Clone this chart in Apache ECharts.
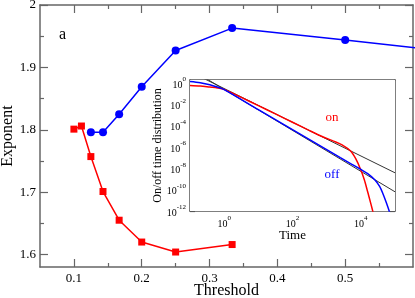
<!DOCTYPE html>
<html><head><meta charset="utf-8">
<script src="https://cdn.jsdelivr.net/npm/echarts@6/dist/echarts.min.js"></script>
<style>html,body{margin:0;padding:0;background:#fff}#c{width:415px;height:298px}</style>
</head><body><div id="c"></div>
<script>
// ---- main panel data ----
const redThreshold = [0.1, 0.1111, 0.125, 0.1429, 0.1667, 0.2, 0.25, 0.3333];
const redExponent  = [1.801, 1.806, 1.757, 1.701, 1.655, 1.620, 1.604, 1.616];
const blueThreshold = [0.125, 0.1429, 0.1667, 0.2, 0.25, 0.3333, 0.5, 1.0];
const blueExponent  = [1.796, 1.796, 1.825, 1.869, 1.927, 1.963, 1.944, 1.884];
const xMajorTicks = [0.1, 0.2, 0.3, 0.4, 0.5];
const xMinorTicks = [0.15, 0.25, 0.35, 0.45, 0.55];
const yMajorTicks = [1.6, 1.7, 1.8, 1.9, 2.0];
const yMinorTicks = [1.65, 1.75, 1.85, 1.95];

// ---- inset data (log10 of time, log10 of distribution) ----
const onLogTime  = [-1, -0.7, -0.42, -0.2, 0, 0.5, 1, 1.5, 2, 2.5, 2.9, 3.2, 3.45, 3.7, 3.85, 4.0, 4.1, 4.2, 4.3, 4.38];
const onLogProb  = [-0.23, -0.28, -0.38, -0.46, -0.6, -1.35, -2.12, -2.9, -3.68, -4.46, -5.06, -5.45, -5.8, -6.38, -7.1, -8.15, -9.05, -10.2, -11.4, -12.4];
const offLogTime = [-1, -0.7, -0.42, -0.2, 0, 1, 2, 3, 3.4, 3.7, 4.0, 4.2, 4.4, 4.55, 4.65, 4.75, 4.85, 4.9];
const offLogProb = [0.15, 0.03, -0.16, -0.38, -0.62, -2.5, -4.38, -6.25, -7.0, -7.55, -8.1, -8.5, -9.05, -9.7, -10.4, -11.25, -12.2, -12.8];
const fitLogTime   = [-1, 5];
const fitOnLogProb = [1.06, -8.42];
const fitOffLogProb = [1.32, -10.2];
const insetXTicks = [0, 2, 4];
const insetYTicks = [-12, -10, -8, -6, -4, -2, 0];

const FONT = '"Liberation Serif", "DejaVu Serif", serif';
const AX = '#666';
const zip = (a, b) => a.map((v, i) => [v, b[i]]);

function ax(o) {
  return {
    type: 'value', gridIndex: o.grid, position: o.pos, min: o.min, max: o.max,
    axisLine: {show: o.line !== false, onZero: false, lineStyle: {color: o.color || AX, width: 1.5}},
    axisTick: {show: true, inside: true, length: o.len, customValues: o.ticks, lineStyle: {color: o.color || AX, width: 1.2}},
    axisLabel: o.labels ? Object.assign({show: true, customValues: o.ticks, color: '#000', fontFamily: FONT}, o.labels) : {show: false},
    splitLine: {show: false},
    name: o.name || '', nameLocation: 'middle', nameGap: o.nameGap || 0, nameMoveOverlap: false,
    nameTextStyle: {fontFamily: FONT, fontSize: o.nameSize || 16, color: '#000'}
  };
}
const supLabel = {
  formatter: v => '{b|10}{s|' + v + '}',
  rich: {
    b: {fontSize: 10, fontFamily: FONT, color: '#000', lineHeight: 14, verticalAlign: 'bottom'},
    s: {fontSize: 7, fontFamily: FONT, color: '#000', lineHeight: 8, verticalAlign: 'top'}
  }
};

const chart = echarts.init(document.getElementById('c'), null, {renderer: 'canvas'});
chart.setOption({
  animation: false,
  backgroundColor: '#fff',
  grid: [
    {left: 40, top: 5, right: 2, bottom: 31, containLabel: false, outerBoundsMode: 'none'},
    {left: 190, top: 80, width: 205, height: 131, show: true, backgroundColor: '#fff', borderWidth: 0, z: 5, containLabel: false, outerBoundsMode: 'none'}
  ],
  xAxis: [
    ax({grid: 0, pos: 'bottom', min: 0.05, max: 0.6, ticks: xMajorTicks, len: 8,
        labels: {fontSize: 13, margin: 5, formatter: v => v.toFixed(1)}, name: 'Threshold', nameGap: 16}),
    ax({grid: 0, pos: 'bottom', min: 0.05, max: 0.6, ticks: xMinorTicks, len: 4, line: false}),
    ax({grid: 0, pos: 'top', min: 0.05, max: 0.6, ticks: xMajorTicks, len: 8}),
    ax({grid: 0, pos: 'top', min: 0.05, max: 0.6, ticks: xMinorTicks, len: 4, line: false}),
    ax({grid: 1, pos: 'bottom', min: -1, max: 5, ticks: insetXTicks, len: 5, color: '#555',
        labels: Object.assign({margin: 4}, supLabel), name: 'Time', nameGap: 18, nameSize: 13}),
    ax({grid: 1, pos: 'top', min: -1, max: 5, ticks: insetXTicks, len: 5, color: '#555'})
  ],
  yAxis: [
    ax({grid: 0, pos: 'left', min: 1.58, max: 2.0, ticks: yMajorTicks, len: 8,
        labels: {fontSize: 13, margin: 4, formatter: v => (v === 2 ? '2' : v.toFixed(1))}, name: 'Exponent', nameGap: 24}),
    ax({grid: 0, pos: 'left', min: 1.58, max: 2.0, ticks: yMinorTicks, len: 4, line: false}),
    ax({grid: 0, pos: 'right', min: 1.58, max: 2.0, ticks: yMajorTicks, len: 8}),
    ax({grid: 0, pos: 'right', min: 1.58, max: 2.0, ticks: yMinorTicks, len: 4, line: false}),
    ax({grid: 1, pos: 'left', min: -12, max: 0.28, ticks: insetYTicks, len: 5, color: '#555',
        labels: Object.assign({margin: 4}, supLabel), name: 'On/off time distribution', nameGap: 26, nameSize: 12}),
    ax({grid: 1, pos: 'right', min: -12, max: 0.28, ticks: insetYTicks, len: 5, color: '#555'})
  ],
  graphic: [
    {type: 'text', left: 59, top: 27, style: {text: 'a', font: '16px ' + FONT, fill: '#000'}},
    {type: 'text', x: 332, y: 118, z: 100, style: {text: 'on', font: '13px ' + FONT, fill: '#ff0000', align: 'center', verticalAlign: 'middle'}},
    {type: 'text', x: 332, y: 175, z: 100, style: {text: 'off', font: '13px ' + FONT, fill: '#0000ff', align: 'center', verticalAlign: 'middle'}}
  ],
  series: [
    {type: 'line', xAxisIndex: 0, yAxisIndex: 0, data: zip(redThreshold, redExponent),
     symbol: 'rect', symbolSize: 7, color: '#ff0000', lineStyle: {width: 1.5, color: '#ff0000'}, itemStyle: {color: '#ff0000'}},
    {type: 'line', xAxisIndex: 0, yAxisIndex: 0, data: zip(blueThreshold, blueExponent),
     symbol: 'circle', symbolSize: 8, color: '#0000ff', lineStyle: {width: 1.5, color: '#0000ff'}, itemStyle: {color: '#0000ff'}},
    {type: 'line', xAxisIndex: 4, yAxisIndex: 4, data: zip(fitLogTime, fitOnLogProb), z: 6,
     showSymbol: false, symbol: 'none', lineStyle: {width: 1, color: '#333'}},
    {type: 'line', xAxisIndex: 4, yAxisIndex: 4, data: zip(fitLogTime, fitOffLogProb), z: 6,
     showSymbol: false, symbol: 'none', lineStyle: {width: 1, color: '#333'}},
    {type: 'line', xAxisIndex: 4, yAxisIndex: 4, data: zip(onLogTime, onLogProb), z: 7, smooth: 0.3,
     showSymbol: false, symbol: 'none', lineStyle: {width: 1.5, color: '#ff0000'}},
    {type: 'line', xAxisIndex: 4, yAxisIndex: 4, data: zip(offLogTime, offLogProb), z: 7, smooth: 0.3,
     showSymbol: false, symbol: 'none', lineStyle: {width: 1.5, color: '#0000ff'}}
  ]
});
</script></body></html>
